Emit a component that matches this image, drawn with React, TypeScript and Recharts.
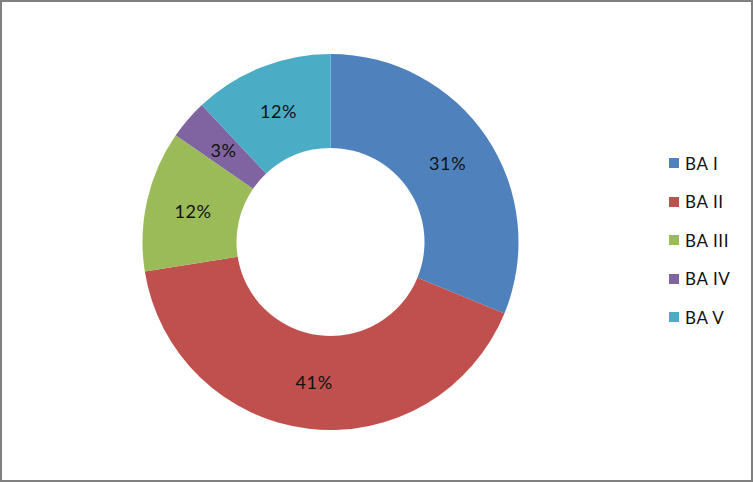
import { PieChart, Pie, Cell, Legend } from "recharts";

const categories = ["BA I", "BA II", "BA III", "BA IV", "BA V"];
const shares = [31.2, 41.3, 12.1, 3.4, 12.0];
const colors = ["#4F81BD", "#C0504D", "#9BBB59", "#8064A2", "#4BACC6"];

const data = categories.map((name, i) => ({ name, value: shares[i] }));

const FONT = "Lato, 'Open Sans', sans-serif";
const RAD = Math.PI / 180;

function renderLabel(props: any) {
  const { cx, cy, midAngle, innerRadius, outerRadius, percent } = props;
  const r = (innerRadius + outerRadius) / 2;
  const x = cx + r * Math.cos(-midAngle * RAD);
  const y = cy + r * Math.sin(-midAngle * RAD);
  return (
    <text
      x={x}
      y={y}
      textAnchor="middle"
      dominantBaseline="central"
      fontFamily={FONT}
      fontSize={18}
      letterSpacing={0.6}
      fill="#111"
    >
      {Math.round(percent * 100) + "%"}
    </text>
  );
}

function LegendList() {
  return (
    <div
      style={{
        fontFamily: FONT,
        fontSize: 17,
        letterSpacing: 0.6,
        color: "#111",
      }}
    >
      {categories.map((c, i) => (
        <div
          key={c}
          style={{ display: "flex", alignItems: "center", height: 38.5 }}
        >
          <span
            style={{
              width: 10,
              height: 10,
              background: colors[i],
              marginRight: 6,
              display: "inline-block",
            }}
          />
          {c}
        </div>
      ))}
    </div>
  );
}

export default function App() {
  return (
    <div
      style={{
        position: "absolute",
        left: 0,
        top: 0,
        width: 753,
        height: 482,
        background: "#fff",
      }}
    >
      <PieChart width={753} height={482}>
        <Pie
          data={data}
          dataKey="value"
          nameKey="name"
          cx={325.5}
          cy={237}
          innerRadius={94}
          outerRadius={188}
          startAngle={90}
          endAngle={-270}
          stroke="none"
          label={renderLabel}
          labelLine={false}
          isAnimationActive={false}
        >
          {data.map((d, i) => (
            <Cell key={d.name} fill={colors[i]} />
          ))}
        </Pie>
        <Legend
          content={<LegendList />}
          wrapperStyle={{ left: 669, top: 144, width: 80 }}
        />
      </PieChart>
      <div
        style={{
          position: "absolute",
          inset: 0,
          border: "2px solid #808080",
          pointerEvents: "none",
        }}
      />
    </div>
  );
}
